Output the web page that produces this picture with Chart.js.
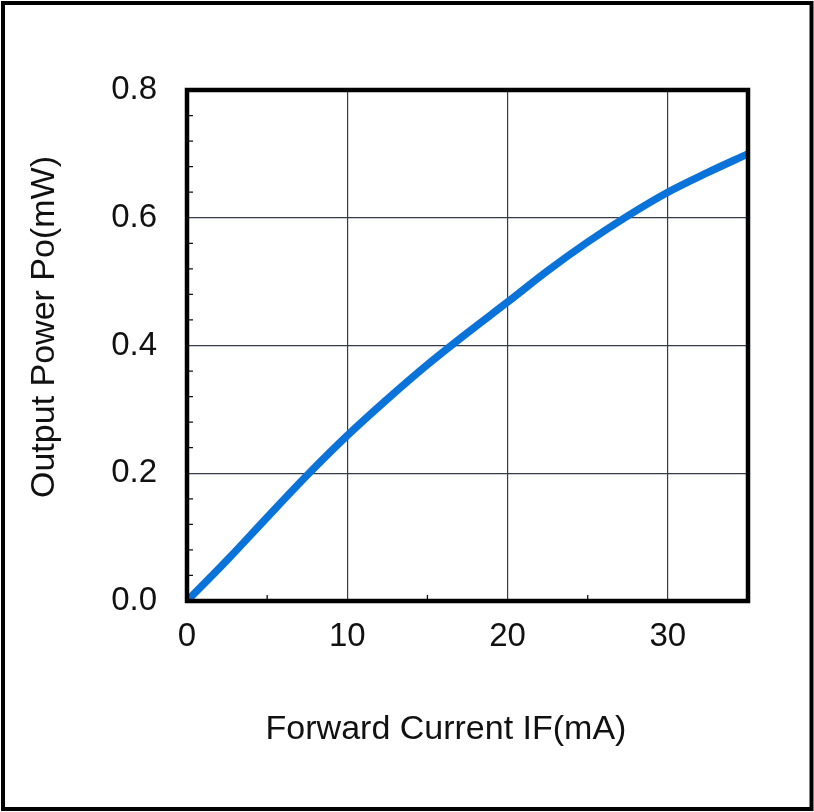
<!DOCTYPE html>
<html>
<head>
<meta charset="utf-8">
<script src="https://cdn.jsdelivr.net/npm/chart.js@4/dist/chart.umd.min.js"></script>
<style>
  html, body { margin: 0; padding: 0; background: #fff; }
  #wrap { width: 814px; height: 812px; }
</style>
</head>
<body>
<div id="wrap"><canvas id="chart" width="814" height="812"></canvas></div>
<script>
// forward current (mA) vs output power (mW)
const currentMA = [0, 2.5, 5, 7.5, 10, 12.5, 15, 17.5, 20, 22.5, 25, 27.5, 30, 32.5, 35];
const powerMW   = [0, 0.064, 0.131, 0.197, 0.259, 0.316, 0.37, 0.42, 0.468, 0.517, 0.562, 0.603, 0.640, 0.671, 0.70];

const xTicks = [0, 10, 20, 30];
const yTicks = [0, 0.2, 0.4, 0.6, 0.8];
const xMinorTicks = [5, 15, 25];
const yMinorTicks = [0.04, 0.08, 0.12, 0.16, 0.24, 0.28, 0.32, 0.36, 0.44, 0.48, 0.52, 0.56, 0.64, 0.68, 0.72, 0.76];

const xTitle = 'Forward Current IF(mA)';
const yTitle = 'Output Power Po(mW)';

const FONT = "'Liberation Sans', Arial, sans-serif";

// cadre noir, petites graduations, titres des axes, bordure extérieure
const framePlugin = {
  id: 'frame',
  afterDraw(chart) {
    const { ctx, chartArea: a, scales: { x, y } } = chart;
    ctx.save();
    ctx.strokeStyle = '#111';
    ctx.lineWidth = 1.3;
    ctx.beginPath();
    xMinorTicks.forEach(v => {
      const px = x.getPixelForValue(v);
      ctx.moveTo(px, a.bottom);
      ctx.lineTo(px, a.bottom - 6);
    });
    yMinorTicks.forEach(v => {
      const py = y.getPixelForValue(v);
      ctx.moveTo(a.left, py);
      ctx.lineTo(a.left + 6, py);
    });
    ctx.stroke();

    ctx.lineWidth = 4.5;
    ctx.strokeStyle = '#000';
    ctx.strokeRect(a.left, a.top, a.right - a.left, a.bottom - a.top);

    ctx.lineWidth = 4;
    ctx.strokeRect(3, 3, 808.5, 806);

    ctx.fillStyle = '#111';
    ctx.font = '34px ' + FONT;
    ctx.textAlign = 'center';
    ctx.textBaseline = 'middle';
    ctx.fillText(xTitle, 446, 730);
    ctx.translate(45, 327);
    ctx.rotate(-Math.PI / 2);
    ctx.fillText(yTitle, 0, 0);
    ctx.restore();
  }
};

new Chart(document.getElementById('chart'), {
  type: 'line',
  data: {
    datasets: [{
      data: currentMA.map((c, i) => ({ x: c, y: powerMW[i] })),
      borderColor: '#0a73d9',
      borderWidth: 7.5,
      pointRadius: 0,
      cubicInterpolationMode: 'monotone',
      fill: false
    }]
  },
  options: {
    responsive: false,
    animation: false,
    layout: { padding: { top: 90, right: 66, left: 0, bottom: 0 } },
    plugins: { legend: { display: false }, tooltip: { enabled: false } },
    scales: {
      x: {
        type: 'linear',
        min: 0,
        max: 35,
        afterBuildTicks: s => { s.ticks = xTicks.map(v => ({ value: v })); },
        afterFit: s => { s.height = 211; },
        grid: { color: '#363b46', lineWidth: 1.2, drawTicks: false },
        border: { display: false },
        ticks: { color: '#111', padding: 16, font: { family: FONT, size: 33 } }
      },
      y: {
        min: 0,
        max: 0.8,
        afterBuildTicks: s => { s.ticks = yTicks.map(v => ({ value: v })); },
        afterFit: s => { s.width = 187; },
        grid: { color: '#363b46', lineWidth: 1.2, drawTicks: false },
        border: { display: false },
        ticks: {
          color: '#111',
          padding: 30,
          font: { family: FONT, size: 33 },
          callback: v => v.toFixed(1)
        }
      }
    }
  },
  plugins: [framePlugin]
});
</script>
</body>
</html>
